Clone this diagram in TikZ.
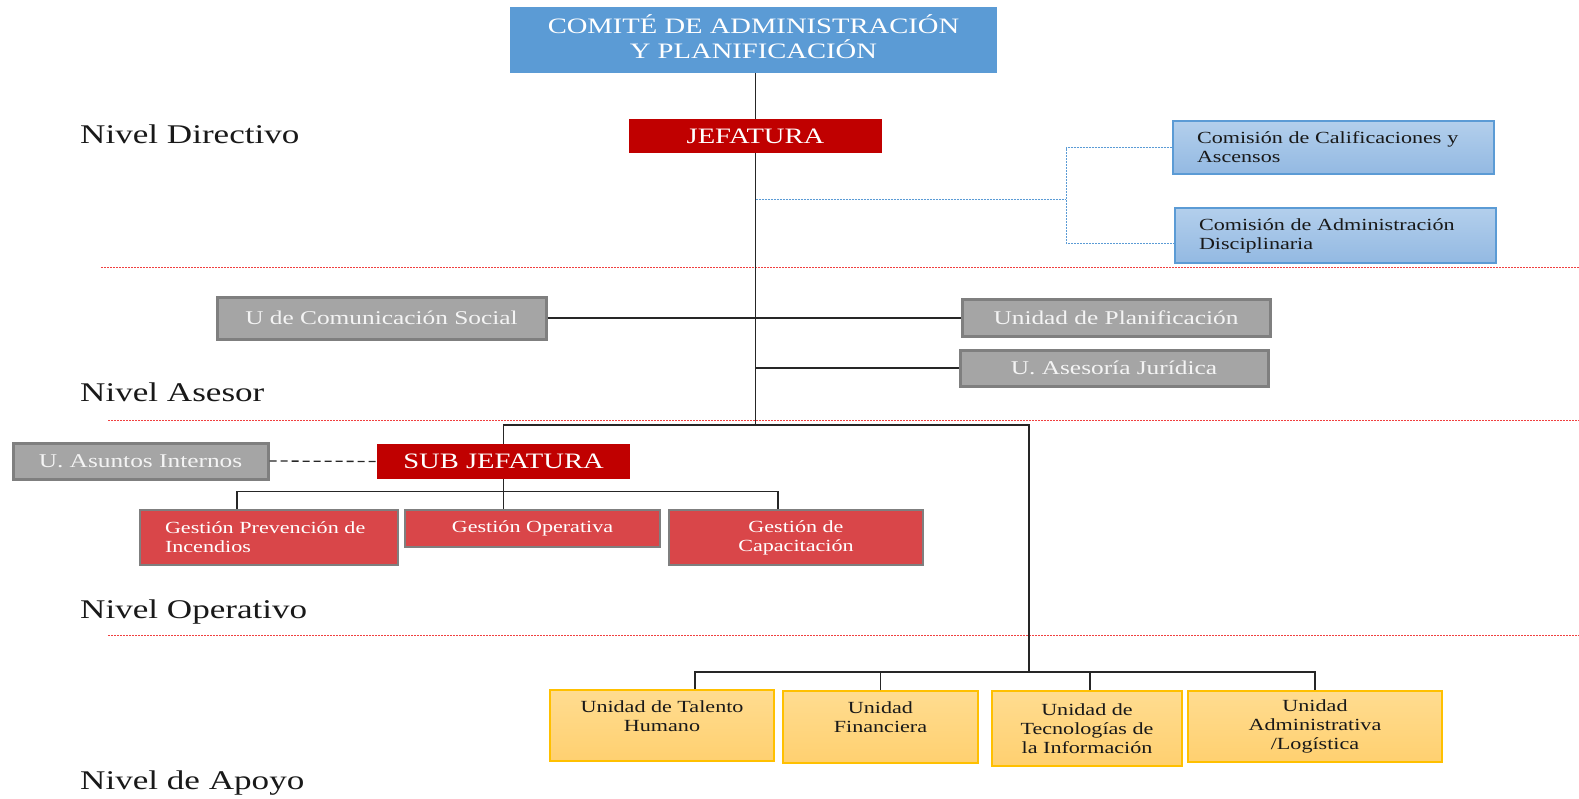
\documentclass[tikz,border=0pt]{standalone}
\usepackage{fontspec}
\setmainfont[FakeStretch=1.3]{Liberation Serif}
\usetikzlibrary{calc}
\definecolor{cblue}{HTML}{5B9BD5}
\definecolor{jred}{HTML}{C00000}
\definecolor{ggray}{HTML}{A5A5A5}
\definecolor{gborder}{HTML}{7F7F7F}
\definecolor{gtext}{HTML}{F4F4F4}
\definecolor{gred}{HTML}{D94649}
\definecolor{cbtop}{HTML}{B3CFEC}
\definecolor{cbbot}{HTML}{93B9E2}
\definecolor{gdtop}{HTML}{FFDC90}
\definecolor{gdbot}{HTML}{FFD070}
\definecolor{gold}{HTML}{FFC000}
\definecolor{lvlred}{HTML}{F04040}
\tikzset{
  box/.style={rectangle, inner sep=0pt, align=center},
  comitebox/.style={box, fill=cblue, text=white, font=\fontsize{22}{25}\selectfont},
  jefebox/.style={box, fill=jred, text=white, font=\fontsize{22}{25}\selectfont},
  graybox/.style={box, fill=ggray, draw=gborder, line width=3pt, text=gtext, font=\fontsize{19.5}{22}\selectfont},
  gestbox/.style={box, fill=gred, draw=gborder, line width=2.5pt, text=white, font=\fontsize{17}{19}\selectfont},
  comisbox/.style={box, top color=cbtop, bottom color=cbbot, draw=cblue, line width=1.5pt, text=black!90, align=left, font=\fontsize{17}{19}\selectfont},
  apoyobox/.style={box, top color=gdtop, bottom color=gdbot, draw=gold, line width=1.5pt, text=black!90, font=\fontsize{17}{19}\selectfont},
  levellabel/.style={anchor=base west, inner sep=0pt, text=black!90, font=\fontsize{27}{30}\selectfont},
  conn/.style={line width=1.3pt, draw=black!85},
  bdash/.style={line width=1pt, draw=cblue, dash pattern=on 2pt off 1pt},
  lvlline/.style={line width=0.8pt, draw=lvlred, dash pattern=on 2pt off 1pt},
  blkdash/.style={line width=1.3pt, draw=black!85, dash pattern=on 7pt off 4pt},
}
\begin{document}
\begin{tikzpicture}[x=1pt,y=-1pt]
\useasboundingbox (0,0) rectangle (1579,798);
\fill[white] (0,0) rectangle (1579,798);

% level separators
\draw[lvlline] (101,267) -- (1579,267);
\draw[lvlline] (108,420) -- (1579,420);
\draw[lvlline] (108,635) -- (1579,635);

% level labels
\node[levellabel] (ldir) at (80,143) {Nivel Directivo};
\node[levellabel] (lase) at (80,401) {Nivel Asesor};
\node[levellabel] (lope) at (80,618) {Nivel Operativo};
\node[levellabel] (lapo) at (80,789) {Nivel de Apoyo};

% nodes
\node[comitebox, minimum width=487pt, minimum height=66pt, text depth=6pt] (comite) at (753.5,40) {COMITÉ DE ADMINISTRACIÓN\\Y PLANIFICACIÓN};
\node[jefebox, minimum width=253pt, minimum height=34pt] (jef) at (755.5,136) {JEFATURA};
\node[comisbox, minimum width=321pt, minimum height=53pt, text width=273pt] (com1) at (1333.5,147.5) {Comisión de Calificaciones y\\Ascensos};
\node[comisbox, minimum width=321pt, minimum height=55pt, text width=273pt] (com2) at (1335.5,235.5) {Comisión de Administración\\Disciplinaria};

\node[graybox, minimum width=329pt, minimum height=42pt] (ucs) at (381.5,318) {U de Comunicación Social};
\node[graybox, minimum width=308pt, minimum height=37pt] (uplan) at (1116,317.5) {Unidad de Planificación};
\node[graybox, minimum width=308pt, minimum height=36pt] (ujur) at (1114,368) {U. Asesoría Jurídica};

\node[jefebox, minimum width=253pt, minimum height=35pt] (subj) at (503.5,461.5) {SUB JEFATURA};
\node[graybox, minimum width=255pt, minimum height=36pt] (uai) at (140.5,461) {U. Asuntos Internos};

\node[gestbox, minimum width=258pt, minimum height=55pt, text width=208pt, align=left] (gpi) at (269,537.5) {Gestión Prevención de\\Incendios};
\node[gestbox, minimum width=255pt, minimum height=37pt] (gop) at (532.5,528.5) {Gestión Operativa};
\node[gestbox, minimum width=254pt, minimum height=55pt] (gcap) at (796,537.5) {Gestión de\\Capacitación};

\node[apoyobox, minimum width=224pt, minimum height=71pt] (uth) at (662,725.5) {Unidad de Talento\\Humano\\\mbox{}};
\node[apoyobox, minimum width=195pt, minimum height=72pt] (ufin) at (880.5,727) {Unidad\\Financiera\\\mbox{}};
\node[apoyobox, minimum width=190pt, minimum height=75pt] (utec) at (1087,728.5) {Unidad de\\Tecnologías de\\la Información};
\node[apoyobox, minimum width=254pt, minimum height=71pt] (uadm) at (1315,726.5) {Unidad\\Administrativa\\/Logística};

% helper coordinates
\coordinate (cR) at (1029,425);
\coordinate (cB) at (1029,672);
\coordinate (bj) at (1066,199);
\coordinate (b2) at (1066,243);

% connectors
\draw[conn] (jef.north |- comite.south) -- (jef.north);
\draw[conn] (jef.south) -- (jef.south |- cR);
\draw[conn] (ucs.east) -- (ucs.east -| uplan.west);
\draw[conn] (jef.south |- ujur.west) -- (ujur.west);
\draw[bdash] (jef.south |- bj) -- (bj);
\draw[bdash] (com1.west) -| (b2) -- (b2 -| com2.west);

\draw[conn] (subj.north) |- (cR) -- (cB);
\draw[blkdash] (uai.east) -- (subj.west);
\draw[conn] (subj.south) -- (subj.south |- gop.north);
\draw[conn] ($(gpi.north)+(-32,0)$) |- ($(gcap.north)+(-18,-17)$) -- ($(gcap.north)+(-18,0)$);

\draw[conn] ($(uth.north)+(33,0)$) |- (uadm.north |- cB) -- (uadm.north);
\draw[conn] (ufin.north) -- (ufin.north |- cB);
\draw[conn] ($(utec.north)+(3,0)$) -- ($(utec.north |- cB)+(3,0)$);
\end{tikzpicture}
\end{document}
